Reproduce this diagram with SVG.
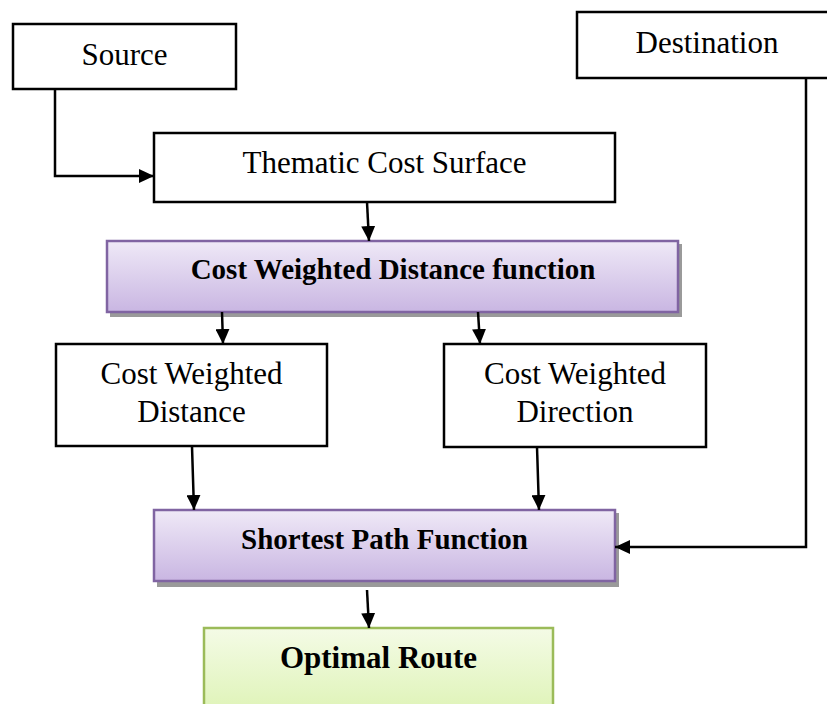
<svg xmlns="http://www.w3.org/2000/svg" width="827" height="704" viewBox="0 0 827 704">
  <style>
    .plain { fill: #ffffff; stroke: #000000; stroke-width: 2.5; }
    .purple { fill: url(#purpleFill); stroke: #8064a2; stroke-width: 2.5; }
    .green { fill: url(#greenFill); stroke: #9bbb59; stroke-width: 2.5; }
    .shadow { fill: #9a9a9a; }
    .label { font-family: "Liberation Serif", "Times New Roman", serif; font-size: 31px; fill: #000000; text-anchor: middle; }
    .bold { font-family: "Liberation Serif", "Times New Roman", serif; font-size: 29px; font-weight: bold; fill: #000000; text-anchor: middle; }
    .edge { fill: none; stroke: #000000; stroke-width: 2.5; }
  </style>
  <defs>
    <linearGradient id="purpleFill" x1="0" y1="0" x2="0" y2="1">
      <stop offset="0" stop-color="#efe9f7"/>
      <stop offset="1" stop-color="#c9b6e2"/>
    </linearGradient>
    <linearGradient id="greenFill" x1="0" y1="0" x2="0" y2="1">
      <stop offset="0" stop-color="#f4fbe6"/>
      <stop offset="1" stop-color="#ddf3b4"/>
    </linearGradient>
    <marker id="arrow" viewBox="0 0 15 14" refX="15" refY="7" markerWidth="15" markerHeight="14" markerUnits="userSpaceOnUse" orient="auto">
      <path d="M0,0 L15,7 L0,14 Z" fill="#000000"/>
    </marker>
  </defs>

  <g id="source">
    <rect class="plain" x="13" y="24" width="223" height="65"/>
    <text class="label" x="124.5" y="65">Source</text>
  </g>

  <g id="destination">
    <rect class="plain" x="577" y="12" width="260" height="66"/>
    <text class="label" x="707" y="53">Destination</text>
  </g>

  <g id="thematic-cost-surface">
    <rect class="plain" x="154" y="133" width="461" height="69"/>
    <text class="label" x="384.5" y="173">Thematic Cost Surface</text>
  </g>

  <g id="cost-weighted-distance-function">
    <rect class="shadow" x="110" y="244" width="572" height="73"/>
    <rect class="purple" x="107" y="241" width="571" height="71"/>
    <text class="bold" x="393" y="279">Cost Weighted Distance function</text>
  </g>

  <g id="cost-weighted-distance">
    <rect class="plain" x="56" y="344" width="271" height="102"/>
    <text class="label" x="191.5" y="384">Cost Weighted</text>
    <text class="label" x="191.5" y="422">Distance</text>
  </g>

  <g id="cost-weighted-direction">
    <rect class="plain" x="444" y="344" width="262" height="103"/>
    <text class="label" x="575" y="384">Cost Weighted</text>
    <text class="label" x="575" y="422">Direction</text>
  </g>

  <g id="shortest-path-function">
    <rect class="shadow" x="157" y="513" width="462" height="74"/>
    <rect class="purple" x="154" y="510" width="461" height="71"/>
    <text class="bold" x="384.5" y="549">Shortest Path Function</text>
  </g>

  <g id="optimal-route">
    <rect class="green" x="204" y="628" width="349" height="90"/>
    <text class="bold" x="378.5" y="668" style="font-size:31px">Optimal Route</text>
  </g>

  <g id="connectors">
    <path class="edge" d="M55,89 L55,176 L154,176" marker-end="url(#arrow)"/>
    <path class="edge" d="M367,202 L369,241" marker-end="url(#arrow)"/>
    <path class="edge" d="M222,312 L223,344" marker-end="url(#arrow)"/>
    <path class="edge" d="M478,312 L480,344" marker-end="url(#arrow)"/>
    <path class="edge" d="M192,446 L194,510" marker-end="url(#arrow)"/>
    <path class="edge" d="M537,447 L539,510" marker-end="url(#arrow)"/>
    <path class="edge" d="M806,78 L806,547 L615,547" marker-end="url(#arrow)"/>
    <path class="edge" d="M367,590 L369,628" marker-end="url(#arrow)"/>
  </g>
</svg>
